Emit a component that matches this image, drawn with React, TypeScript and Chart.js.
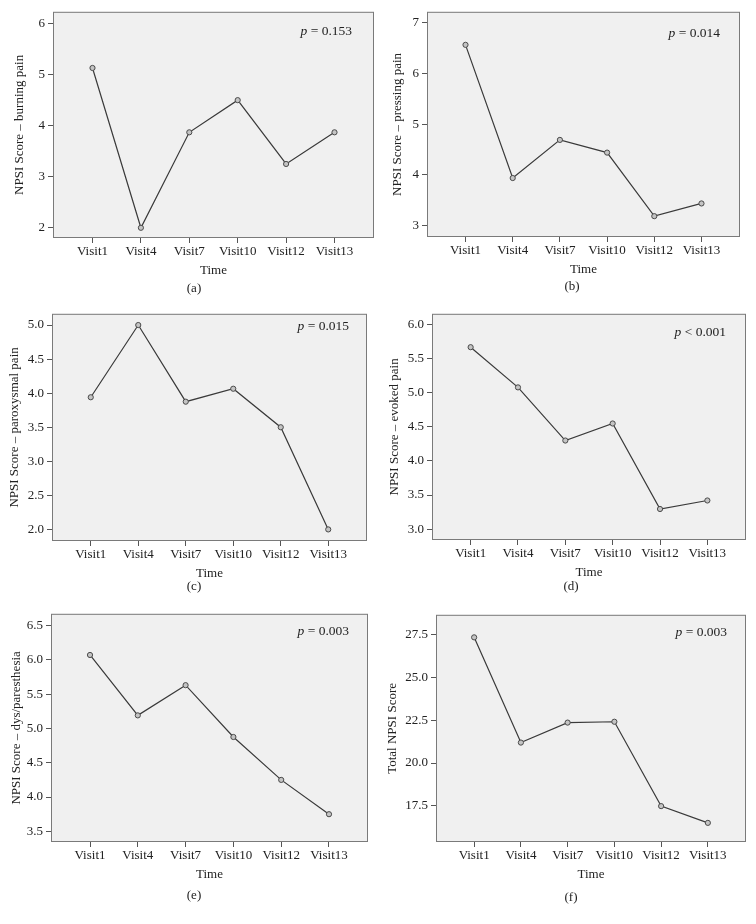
import React, { useEffect, useRef } from 'react';
import { Chart, registerables } from 'chart.js';

Chart.register(...registerables);

// ---------- data ----------
const visits = ['Visit1', 'Visit4', 'Visit7', 'Visit10', 'Visit12', 'Visit13'];

const burningPain = [5.13, 2.0, 3.87, 4.5, 3.25, 3.87];
const pressingPain = [6.56, 3.94, 4.69, 4.44, 3.19, 3.44];
const paroxysmalPain = [3.94, 5.0, 3.875, 4.065, 3.5, 2.0];
const evokedPain = [5.67, 5.08, 4.3, 4.55, 3.295, 3.42];
const dysParesthesia = [6.07, 5.19, 5.63, 4.875, 4.25, 3.75];
const totalNpsi = [27.36, 21.2, 22.37, 22.42, 17.48, 16.5];

const yTitles = [
  'NPSI Score \u2013 burning pain',
  'NPSI Score \u2013 pressing pain',
  'NPSI Score \u2013 paroxysmal pain',
  'NPSI Score \u2013 evoked pain',
  'NPSI Score \u2013 dys/paresthesia',
  'Total NPSI Score',
];
const pTexts = [' = 0.153', ' = 0.014', ' = 0.015', ' < 0.001', ' = 0.003', ' = 0.003'];
const captions = ['(a)', '(b)', '(c)', '(d)', '(e)', '(f)'];
const seriesList = [burningPain, pressingPain, paroxysmalPain, evokedPain, dysParesthesia, totalNpsi];

// ---------- layout / style ----------
type Panel = {
  L: number; R: number; T: number; B: number;
  yMin: number; yMax: number; step: number; dec: number;
  titleOff: number; pDy: number; pGap: number;
  capX: number; capY: number;
};

const panels: Panel[] = [
  { L: 53, R: 374, T: 11, B: 238, yMin: 1.8, yMax: 6.23, step: 1, dec: 0, titleOff: 33, pDy: 20, pGap: 22, capX: 194, capY: 288 },
  { L: 427, R: 740, T: 11, B: 237, yMin: 2.78, yMax: 7.21, step: 1, dec: 0, titleOff: 29, pDy: 22, pGap: 20, capX: 572, capY: 286 },
  { L: 52, R: 367, T: 313, B: 541, yMin: 1.83, yMax: 5.165, step: 0.5, dec: 1, titleOff: 37, pDy: 13, pGap: 18, capX: 194, capY: 586 },
  { L: 432, R: 746, T: 313, B: 540, yMin: 2.84, yMax: 6.16, step: 0.5, dec: 1, titleOff: 37, pDy: 19, pGap: 20, capX: 571, capY: 586 },
  { L: 51, R: 368, T: 613, B: 842, yMin: 3.345, yMax: 6.67, step: 0.5, dec: 1, titleOff: 34, pDy: 18, pGap: 19, capX: 194, capY: 895 },
  { L: 436, R: 746, T: 614, B: 842, yMin: 15.38, yMax: 28.68, step: 2.5, dec: 1, titleOff: 43, pDy: 18, pGap: 19, capX: 571, capY: 897 },
];

const X_PAD = 0.816;
const AXIS_W = 60;
const AXIS_H = 60;
const EDGE = 10;
const FONT = "'Liberation Serif', 'DejaVu Serif', serif";
const TEXT = '#222222';

function PanelChart({ idx }: { idx: number }) {
  const ref = useRef<HTMLCanvasElement | null>(null);
  const p = panels[idx];
  const width = p.R - p.L + AXIS_W + EDGE;
  const height = p.B - p.T + EDGE + AXIS_H;

  useEffect(() => {
    if (!ref.current) return;
    const values = seriesList[idx];
    const boxPlugin = {
      id: 'boxPlugin',
      beforeDraw(chart: any) {
        const { ctx, chartArea: a } = chart;
        ctx.save();
        ctx.fillStyle = '#f0f0f0';
        ctx.fillRect(a.left, a.top, a.right - a.left, a.bottom - a.top);
        ctx.restore();
      },
      afterDraw(chart: any) {
        const { ctx, chartArea: a } = chart;
        ctx.save();
        ctx.strokeStyle = '#7a7a7a';
        ctx.lineWidth = 1;
        ctx.strokeRect(a.left + 0.5, a.top + 0.5, a.right - a.left - 1, a.bottom - a.top - 1);
        // p-value annotation
        const size = 13.5;
        ctx.fillStyle = TEXT;
        ctx.textBaseline = 'middle';
        ctx.font = `${size}px ${FONT}`;
        const rest = pTexts[idx];
        const wRest = ctx.measureText(rest).width;
        ctx.font = `italic ${size}px ${FONT}`;
        const wP = ctx.measureText('p').width;
        const xEnd = a.right - p.pGap;
        const y = a.top + p.pDy;
        ctx.fillText('p', xEnd - wRest - wP, y);
        ctx.font = `${size}px ${FONT}`;
        ctx.fillText(rest, xEnd - wRest, y);
        ctx.restore();
      },
    };

    const chart = new Chart(ref.current, {
      type: 'line',
      data: {
        datasets: [
          {
            data: values.map((v, i) => ({ x: i, y: v })),
            borderColor: '#3a3a3a',
            borderWidth: 1.2,
            tension: 0,
            pointRadius: 2.6,
            pointBackgroundColor: '#c4c4c4',
            pointBorderColor: '#4a4a4a',
            pointBorderWidth: 1,
            fill: false,
          },
        ],
      },
      options: {
        animation: false,
        responsive: false,
        maintainAspectRatio: false,
        layout: { padding: { left: 0, top: EDGE, right: EDGE, bottom: 0 } },
        plugins: { legend: { display: false }, tooltip: { enabled: false }, title: { display: false } },
        scales: {
          x: {
            type: 'linear',
            min: -X_PAD,
            max: visits.length - 1 + X_PAD,
            afterBuildTicks: (scale: any) => {
              scale.ticks = visits.map((_, i) => ({ value: i }));
            },
            afterFit: (scale: any) => {
              scale.height = AXIS_H;
            },
            grid: { display: true, drawOnChartArea: false, drawTicks: true, tickLength: 5, color: '#555555' },
            border: { display: false },
            ticks: {
              autoSkip: false,
              maxRotation: 0,
              padding: 1,
              color: TEXT,
              font: { family: FONT, size: 13 },
              callback: (v: any) => visits[Math.round(Number(v))] ?? '',
            },
            title: {
              display: true,
              text: 'Time',
              color: TEXT,
              font: { family: FONT, size: 13 },
              padding: { top: 0, bottom: 19.5 },
            },
          },
          y: {
            type: 'linear',
            min: p.yMin,
            max: p.yMax,
            afterFit: (scale: any) => {
              scale.width = AXIS_W;
            },
            grid: { display: true, drawOnChartArea: false, drawTicks: true, tickLength: 5, color: '#555555' },
            border: { display: false },
            ticks: {
              stepSize: p.step,
              includeBounds: false,
              padding: 3,
              color: TEXT,
              font: { family: FONT, size: 13 },
              callback: (v: any) => Number(v).toFixed(p.dec),
            },
            title: {
              display: true,
              text: yTitles[idx],
              color: TEXT,
              font: { family: FONT, size: 13 },
              padding: { top: AXIS_W - 7.8 - p.titleOff, bottom: 0 },
            },
          },
        },
      },
      plugins: [boxPlugin],
    } as any);
    return () => chart.destroy();
  }, [idx]);

  return (
    <canvas
      ref={ref}
      width={width}
      height={height}
      style={{
        position: 'absolute',
        left: p.L - AXIS_W,
        top: p.T - EDGE,
        width,
        height,
      }}
    />
  );
}

export default function App() {
  return (
    <div
      style={{
        position: 'absolute',
        left: 0,
        top: 0,
        width: 756,
        height: 924,
        background: '#ffffff',
        overflow: 'hidden',
      }}
    >
      {panels.map((p, i) => (
        <React.Fragment key={i}>
          <PanelChart idx={i} />
          <div
            style={{
              position: 'absolute',
              left: p.capX,
              top: p.capY,
              transform: 'translate(-50%, -50%)',
              fontFamily: FONT,
              fontSize: 13,
              color: TEXT,
              whiteSpace: 'nowrap',
            }}
          >
            {captions[i]}
          </div>
        </React.Fragment>
      ))}
    </div>
  );
}
